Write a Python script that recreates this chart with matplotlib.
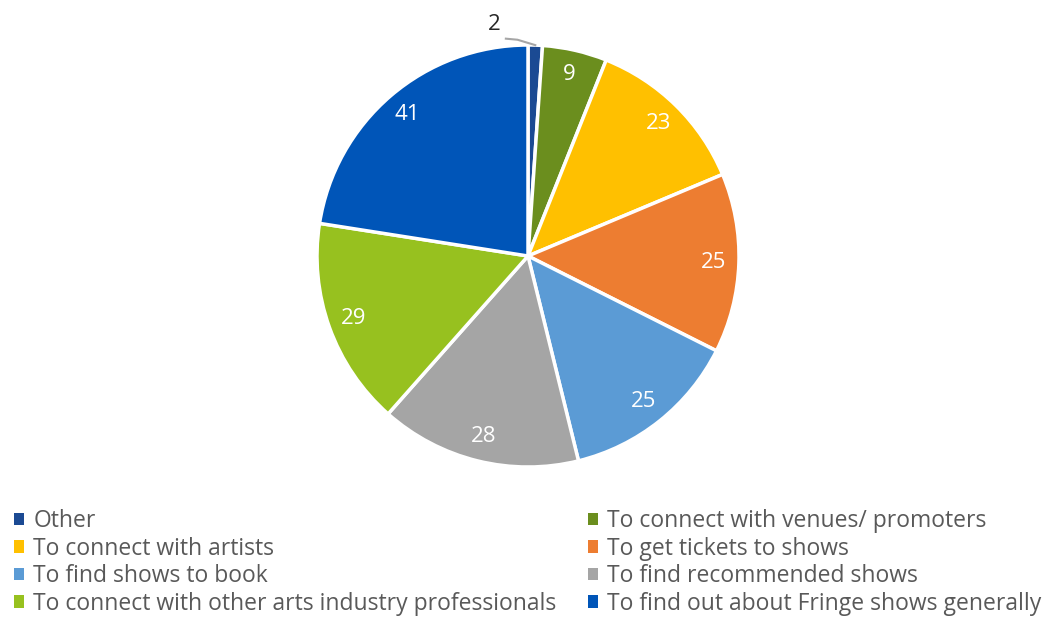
import matplotlib.pyplot as plt
import numpy as np

labels = ['Other', 'To connect with venues/ promoters', 'To connect with artists',
          'To get tickets to shows', 'To find shows to book', 'To find recommended shows',
          'To connect with other arts industry professionals',
          'To find out about Fringe shows generally']
values = [2, 9, 23, 25, 25, 28, 29, 41]
colors = ['#1B4A93', '#6B8E1E', '#FFC000', '#ED7D31', '#5B9BD5', '#A5A5A5', '#97C11F', '#0055B8']

plt.rcParams['font.family'] = ['Open Sans', 'DejaVu Sans']

fig = plt.figure(figsize=(10.53, 6.17), dpi=100)
ax = fig.add_axes([(528 - 211) / 1053, (617 - 467) / 617, 422 / 1053, 422 / 617])

wedges, texts = ax.pie(values, colors=colors, startangle=90, counterclock=False,
                       wedgeprops=dict(edgecolor='white', linewidth=2.5))
ax.set_aspect('equal')
ax.set_xlim(-1, 1)
ax.set_ylim(-1, 1)

# value labels: small slice gets an outside label with a leader line
total = sum(values)
start = 90.0
for w, v in zip(wedges, values):
    mid = np.deg2rad(start - 360.0 * v / total / 2)
    start -= 360.0 * v / total
    if v < 5:
        ex, ey = np.cos(mid), np.sin(mid)
        ax.plot([ex * 1.0, -0.05, -0.105], [ey * 1.0, 1.025, 1.03], color='#A6A6A6', lw=1.5,
                clip_on=False)
        ax.text(-0.16, 1.095, str(v), ha='center', va='center', fontsize=16, color='#262626')
    else:
        ax.text(0.88 * np.cos(mid), 0.88 * np.sin(mid), str(v), ha='center', va='center',
                fontsize=16, color='white')

# legend: two columns filled row by row
cols = [[0, 2, 4, 6], [1, 3, 5, 7]]
anchors = [(0.0, -0.02), (0.545, -0.02)]
for idx, anc in zip(cols, anchors):
    leg = fig.legend([wedges[i] for i in idx], [labels[i] for i in idx],
                     loc='lower left', bbox_to_anchor=anc, frameon=False,
                     fontsize=16.5, handlelength=0.45, handleheight=0.45, handletextpad=0.4,
                     labelspacing=0.15, borderaxespad=0.2)
    for t in leg.get_texts():
        t.set_color('#595959')
    for h in leg.legend_handles:
        h.set_edgecolor('none')

fig.savefig('out.png', dpi=100)
